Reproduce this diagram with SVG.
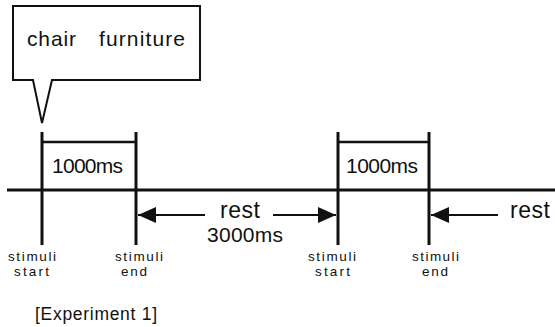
<svg xmlns="http://www.w3.org/2000/svg" width="555" height="327" viewBox="0 0 555 327">
<style>
  .ln{stroke:#111;stroke-width:3;fill:none}
  .bar{stroke:#111;stroke-width:2.5;fill:none}
  .ar{stroke:#111;stroke-width:2;fill:none}
  text{font-family:"Liberation Sans",Arial,sans-serif;fill:#111}
  .big{font-size:21px}
  .rest{font-size:23px}
  .sm{font-size:13.5px}
  .mid{font-size:17.5px}
</style>
<defs>
  <marker id="ah" viewBox="0 0 18 16" refX="18" refY="8" markerWidth="18" markerHeight="16" markerUnits="userSpaceOnUse" orient="auto">
    <path d="M0,0 L18,8 L0,16 Z" fill="#111"/>
  </marker>
</defs>
<rect width="555" height="327" fill="#fff"/>
<g id="callout">
  <path d="M13,6 H200 V80 H52 L42,123 L33,80 H13 Z" fill="#fff" stroke="#111" stroke-width="2" stroke-linejoin="miter"/>
  <text x="27" y="46" style="font-size:21px"><tspan x="27" textLength="49">chair</tspan><tspan x="99" textLength="86">furniture</tspan></text>
</g>
<g id="timeline">
  <line class="ln" x1="7" y1="190" x2="555" y2="190"/>
</g>
<g id="stim1">
  <line class="ln" x1="42" y1="132" x2="42" y2="245"/>
  <line class="ln" x1="136" y1="132" x2="136" y2="245"/>
  <line class="bar" x1="42" y1="142" x2="136" y2="142"/>
  <text class="big" x="52" y="173" textLength="71">1000ms</text>
</g>
<g id="stim2">
  <line class="ln" x1="338" y1="132" x2="338" y2="245"/>
  <line class="ln" x1="429" y1="132" x2="429" y2="245"/>
  <line class="bar" x1="338" y1="142" x2="429" y2="142"/>
  <text class="big" x="346" y="173" textLength="72">1000ms</text>
</g>
<g id="connectors">
  <line class="ar" x1="205" y1="215" x2="138" y2="215" marker-end="url(#ah)"/>
  <line class="ar" x1="273" y1="215" x2="336" y2="215" marker-end="url(#ah)"/>
  <line class="ar" x1="498" y1="215" x2="431" y2="215" marker-end="url(#ah)"/>
</g>
<g id="rest1">
  <text class="rest" x="220" y="218" textLength="40">rest</text>
  <text class="big" x="207" y="242" textLength="76">3000ms</text>
</g>
<g id="rest2">
  <text class="rest" x="510" y="218" textLength="40">rest</text>
</g>
<g id="labels">
  <text class="sm" x="8" y="261" textLength="48">stimuli</text>
  <text class="sm" x="14" y="276" textLength="35">start</text>
  <text class="sm" x="115" y="261" textLength="48">stimuli</text>
  <text class="sm" x="121" y="276" textLength="26">end</text>
  <text class="sm" x="308" y="261" textLength="48">stimuli</text>
  <text class="sm" x="315" y="276" textLength="35">start</text>
  <text class="sm" x="412" y="261" textLength="47">stimuli</text>
  <text class="sm" x="422" y="276" textLength="26">end</text>
  <text class="mid" x="35" y="320" textLength="122">[Experiment 1]</text>
</g>
</svg>
